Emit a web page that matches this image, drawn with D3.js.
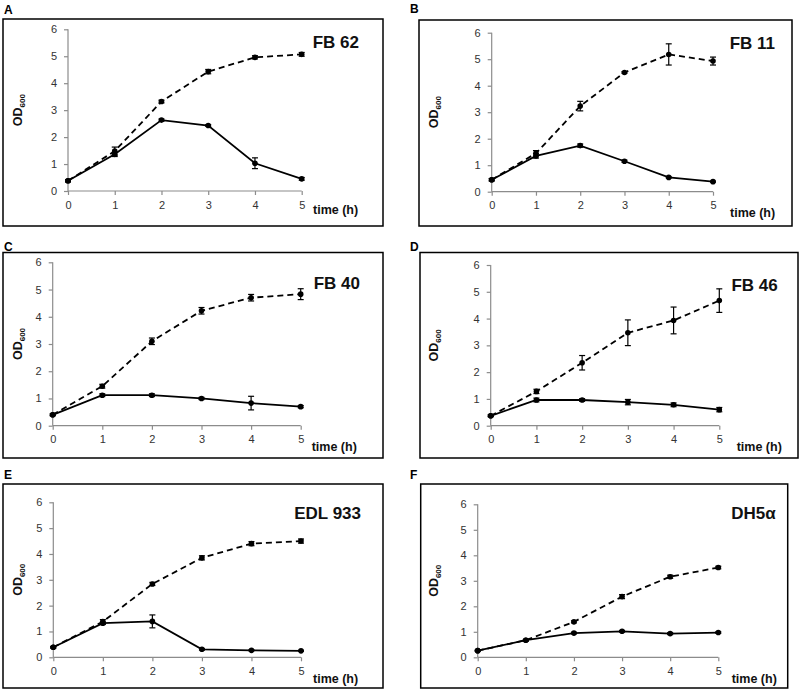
<!DOCTYPE html>
<html>
<head>
<meta charset="utf-8">
<script src="https://cdn.jsdelivr.net/npm/d3@7"></script>
<style>
  html, body { margin: 0; padding: 0; background: #fff; }
  svg { display: block; font-family: "Liberation Sans", Arial, sans-serif; }
</style>
</head>
<body>
<svg id="chart" width="801" height="694"></svg>
<script>
// ---- data ----
const panelLetters = ["A", "B", "C", "D", "E", "F"];
const strains = ["FB 62", "FB 11", "FB 40", "FB 46", "EDL 933", "DH5α"];
const times = [0, 1, 2, 3, 4, 5];
const yTicks = [0, 1, 2, 3, 4, 5, 6];
const xAxisTitle = "time (h)";

// dashed series (means and error half-widths)
const dashedValues = [
  [0.38, 1.48, 3.32, 4.43, 4.96, 5.07],
  [0.45, 1.45, 3.23, 4.50, 5.18, 4.93],
  [0.40, 1.45, 3.10, 4.22, 4.70, 4.83],
  [0.37, 1.28, 2.35, 3.47, 3.93, 4.67],
  [0.39, 1.38, 2.84, 3.85, 4.40, 4.50],
  [0.26, 0.67, 1.39, 2.38, 3.16, 3.52]
];
const dashedErrors = [
  [0.04, 0.15, 0.05, 0.08, 0.06, 0.07],
  [0.04, 0.10, 0.18, 0.03, 0.40, 0.15],
  [0.03, 0.07, 0.12, 0.12, 0.12, 0.20],
  [0.03, 0.08, 0.27, 0.48, 0.50, 0.44],
  [0.03, 0.08, 0.06, 0.08, 0.08, 0.08],
  [0.02, 0.03, 0.04, 0.08, 0.06, 0.05]
];
// solid series
const solidValues = [
  [0.38, 1.36, 2.63, 2.43, 1.03, 0.45],
  [0.45, 1.35, 1.74, 1.15, 0.54, 0.38],
  [0.40, 1.12, 1.12, 1.00, 0.83, 0.70],
  [0.37, 0.96, 0.96, 0.88, 0.78, 0.60],
  [0.39, 1.32, 1.39, 0.31, 0.27, 0.25],
  [0.26, 0.67, 0.95, 1.02, 0.93, 0.97]
];
const solidErrors = [
  [0.04, 0.08, 0.04, 0.03, 0.20, 0.05],
  [0.04, 0.08, 0.06, 0.04, 0.02, 0.02],
  [0.03, 0.05, 0.05, 0.04, 0.25, 0.04],
  [0.03, 0.07, 0.05, 0.10, 0.07, 0.08],
  [0.03, 0.05, 0.25, 0.03, 0.02, 0.02],
  [0.02, 0.03, 0.03, 0.03, 0.04, 0.03]
];

// ---- layout (pixel geometry per panel) ----
const layout = [
  { box: [3, 19, 383, 226],   letter: [4, 13.5],  plot: [68, 301.7, 191, 29.3],   title: [359, 42],   timeX: [313, 210],   odX: 18 },
  { box: [419, 20, 792, 226], letter: [410, 12.5], plot: [491.7, 713, 191.7, 32.7], title: [775, 43],   timeX: [730, 213],   odX: 434 },
  { box: [3, 252.5, 383, 458], letter: [4, 250.7], plot: [52.7, 300.7, 425.7, 262.3], title: [360, 283], timeX: [311.7, 446.7], odX: 18 },
  { box: [420, 252.5, 798, 458], letter: [410, 251], plot: [490.7, 719.3, 425.7, 265], title: [777.7, 285], timeX: [736.7, 446.7], odX: 434 },
  { box: [3, 484, 383, 688],  letter: [4, 479.3], plot: [53.3, 301, 657.3, 502.3],  title: [361, 513],  timeX: [313, 678.3], odX: 18 },
  { box: [420.7, 484, 787.7, 688], letter: [410, 478.5], plot: [477.7, 718.3, 657.3, 504.3], title: [775.7, 513], timeX: [731.7, 678.3], odX: 434 }
];

const svg = d3.select("#chart");

panelLetters.forEach((letter, i) => {
  const L = layout[i];
  const g = svg.append("g");

  // panel letter
  g.append("text")
    .attr("x", L.letter[0]).attr("y", L.letter[1])
    .attr("font-size", 12).attr("font-weight", "bold").attr("fill", "#000")
    .text(letter);

  // box
  g.append("rect")
    .attr("x", L.box[0]).attr("y", L.box[1])
    .attr("width", L.box[2] - L.box[0]).attr("height", L.box[3] - L.box[1])
    .attr("fill", "none").attr("stroke", "#000").attr("stroke-width", 1.5);

  const x = d3.scaleLinear().domain([0, 5]).range([L.plot[0], L.plot[1]]);
  const y = d3.scaleLinear().domain([0, 6]).range([L.plot[2], L.plot[3]]);

  // y axis
  const yAxis = g.append("g")
    .attr("transform", `translate(${L.plot[0]},0)`)
    .call(d3.axisLeft(y).tickValues(yTicks).tickSize(4).tickPadding(7).tickFormat(d3.format("d")));
  // x axis
  const xAxis = g.append("g")
    .attr("transform", `translate(0,${L.plot[2]})`)
    .call(d3.axisBottom(x).tickValues(times).tickSize(4).tickPadding(6).tickFormat(d3.format("d")));

  [yAxis, xAxis].forEach(a => {
    a.select(".domain").attr("stroke", "#8c8c8c").attr("stroke-width", 1.2);
    a.selectAll(".tick line").attr("stroke", "#8c8c8c").attr("stroke-width", 1.2);
    a.selectAll(".tick text")
      .attr("font-size", 11).attr("fill", "#333")
      .attr("font-family", "'Liberation Sans', Arial, sans-serif");
  });
  yAxis.select(".domain").attr("d", `M-0,${L.plot[2]}V${L.plot[3]}`);
  xAxis.select(".domain").attr("d", `M${L.plot[0]},0H${L.plot[1]}`);

  // series
  const series = [
    { vals: dashedValues[i], errs: dashedErrors[i], dash: "6,4" },
    { vals: solidValues[i], errs: solidErrors[i], dash: null }
  ];
  const line = d3.line().x((d, k) => x(times[k])).y(d => y(d));

  series.forEach(s => {
    g.append("path")
      .datum(s.vals)
      .attr("d", line)
      .attr("fill", "none").attr("stroke", "#000").attr("stroke-width", 1.8)
      .attr("stroke-dasharray", s.dash);

    const eg = g.append("g");
    times.forEach((t, k) => {
      const cx = x(t), top = y(s.vals[k] + s.errs[k]), bot = y(s.vals[k] - s.errs[k]);
      eg.append("line").attr("x1", cx).attr("x2", cx).attr("y1", top).attr("y2", bot)
        .attr("stroke", "#000").attr("stroke-width", 1.2);
      [top, bot].forEach(yy => eg.append("line")
        .attr("x1", cx - 3).attr("x2", cx + 3).attr("y1", yy).attr("y2", yy)
        .attr("stroke", "#000").attr("stroke-width", 1.2));
    });

    g.append("g").selectAll("circle")
      .data(s.vals).join("circle")
      .attr("cx", (d, k) => x(times[k])).attr("cy", d => y(d))
      .attr("r", 2.8).attr("fill", "#000");
  });

  // strain title
  g.append("text")
    .attr("x", L.title[0]).attr("y", L.title[1])
    .attr("dy", "0.35em").attr("text-anchor", "end")
    .attr("font-size", 17).attr("font-weight", "bold").attr("fill", "#111")
    .text(strains[i]);

  // x axis title
  g.append("text")
    .attr("x", L.timeX[0]).attr("y", L.timeX[1])
    .attr("dy", "0.35em")
    .attr("font-size", 12.5).attr("font-weight", "bold").attr("fill", "#111")
    .text(xAxisTitle);

  // y axis title OD600, centred on the plot height
  const od = g.append("text")
    .attr("transform", `translate(${L.odX},${(L.plot[2] + L.plot[3]) / 2}) rotate(-90)`)
    .attr("text-anchor", "middle").attr("dy", "0.35em")
    .attr("font-size", 12.5).attr("font-weight", "bold").attr("fill", "#111");
  od.append("tspan").text("OD");
  od.append("tspan").attr("font-size", 8).attr("dy", "0.35em").text("600");
});
</script>
</body>
</html>
